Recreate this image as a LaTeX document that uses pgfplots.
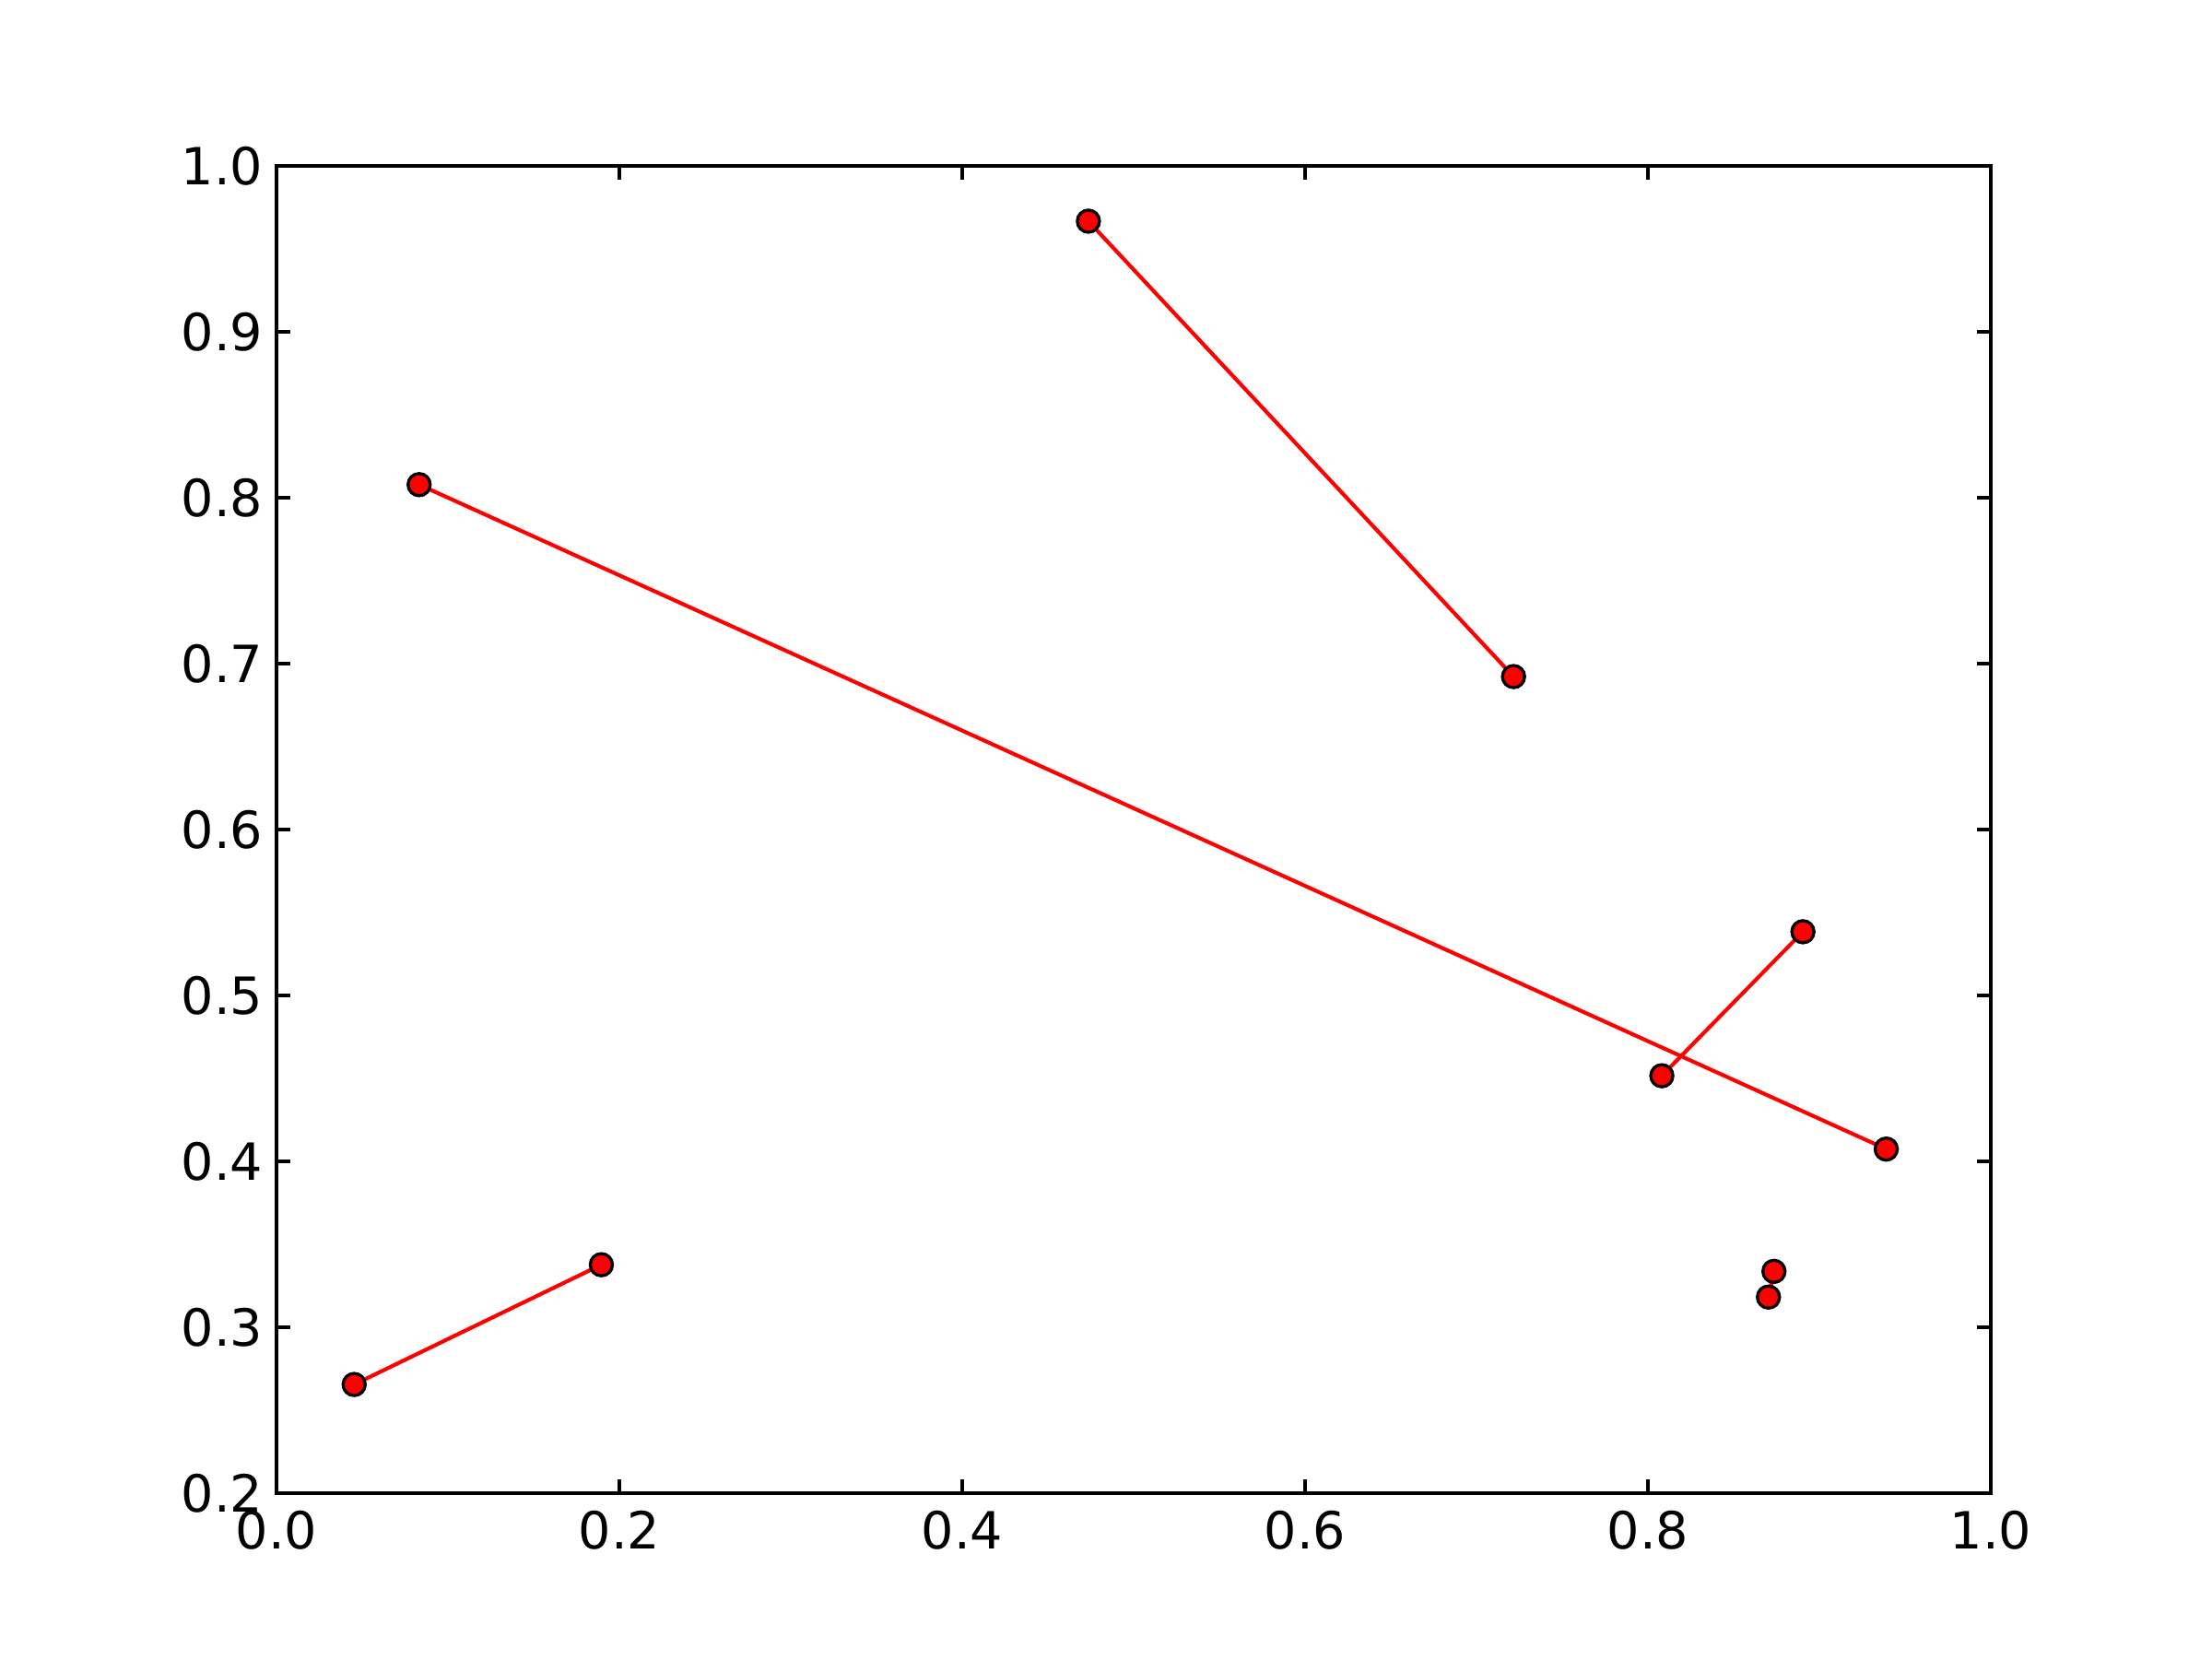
\documentclass[border=0pt]{standalone}
\usepackage{pgfplots}
\pgfplotsset{compat=1.18}
\usepackage{fontspec}
\setmainfont{DejaVu Sans}
\tikzset{seg/.style={red, line width=1pt, mark=*, mark size=2.9pt,
    mark options={fill=red, draw=black, line width=0.8pt}}}
\begin{document}
\begin{tikzpicture}
\begin{axis}[
  at={(0,0)}, anchor=south west,
  scale only axis, width=6.2in, height=4.8in,
  xmin=0, xmax=1, ymin=0.2, ymax=1.0,
  xtick={0,0.2,...,1.0}, ytick={0.2,0.3,...,1.0},
  tick align=inside, tick pos=both,
  major tick length=0.05in,
  tick style={black, line width=0.8pt},
  axis line style={black, line width=1pt},
  /pgf/number format/assume math mode=true,
  /pgf/number format/fixed, /pgf/number format/fixed zerofill, /pgf/number format/precision=1,
  tick label style={font=\fontsize{13.4}{15}\selectfont},
  xticklabel style={yshift=-1pt},
]
\addplot[seg] coordinates {(0.0453,0.2655) (0.1895,0.3377)};
\addplot[seg] coordinates {(0.0832,0.8079) (0.9390,0.4074)};
\addplot[seg] coordinates {(0.4736,0.9667) (0.7216,0.6922)};
\addplot[seg] coordinates {(0.8081,0.4516) (0.8904,0.5384)};
\addplot[seg] coordinates {(0.8735,0.3337) (0.8703,0.3182)};
\end{axis}
\path (-1in,-0.6in) rectangle (7in,5.4in);
\end{tikzpicture}
\end{document}
